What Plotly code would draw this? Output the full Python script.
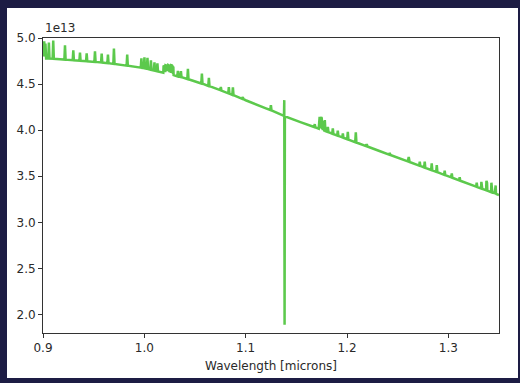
import plotly.graph_objects as go

# Spectrum samples: wavelength in microns, flux in units of 1e13
wavelength = [
    0.9000, 0.9003, 0.9006, 0.9009, 0.9012, 0.9015, 0.9018, 0.9021, 0.9024, 0.9027, 0.9031,
    0.9052, 0.9058, 0.9064,
    0.9095, 0.9101, 0.9107,
    0.9168,
    0.9211, 0.9217, 0.9223,
    0.9293, 0.9299, 0.9305,
    0.9359, 0.9365, 0.9371,
    0.9425, 0.9431, 0.9437,
    0.9507, 0.9513, 0.9519,
    0.9573, 0.9579, 0.9585,
    0.9635, 0.9641, 0.9647,
    0.9694, 0.9700, 0.9706,
    0.9760,
    0.9825, 0.9831, 0.9837,
    0.9965, 0.9971, 0.9977,
    0.9995, 1.0001, 1.0007,
    1.0025, 1.0031, 1.0037,
    1.0059, 1.0065, 1.0071,
    1.0094, 1.0100, 1.0106,
    1.0123, 1.0129, 1.0135,
    1.0187, 1.0190, 1.0193, 1.0196, 1.0199, 1.0202, 1.0206, 1.0209, 1.0213, 1.0216,
    1.0220, 1.0223, 1.0227, 1.0230, 1.0234, 1.0237, 1.0241, 1.0244, 1.0248, 1.0251,
    1.0255, 1.0258, 1.0262, 1.0265, 1.0269, 1.0272, 1.0276, 1.0279, 1.0283, 1.0286,
    1.0289,
    1.0325, 1.0331, 1.0337,
    1.0355, 1.0361, 1.0367,
    1.0424, 1.0430, 1.0436,
    1.0500,
    1.0562, 1.0568, 1.0574,
    1.0631, 1.0637, 1.0643,
    1.0749, 1.0755, 1.0761,
    1.0828, 1.0834, 1.0840,
    1.0868, 1.0874, 1.0880,
    1.0966, 1.0972, 1.0978,
    1.1000, 1.1200,
    1.1243, 1.1249, 1.1255,
    1.1378, 1.1381, 1.1384, 1.1387,
    1.1540,
    1.1676, 1.1682, 1.1688,
    1.1721, 1.1724, 1.1727, 1.1730, 1.1734, 1.1737, 1.1741, 1.1744, 1.1748, 1.1751,
    1.1755, 1.1758, 1.1762, 1.1766, 1.1770, 1.1775,
    1.1778, 1.1781, 1.1787,
    1.1805, 1.1811, 1.1817,
    1.1854, 1.1860, 1.1866,
    1.1903, 1.1909, 1.1915,
    1.1953, 1.1959, 1.1965,
    1.2002, 1.2008, 1.2014,
    1.2081, 1.2087, 1.2093,
    1.2189, 1.2195, 1.2201,
    1.2320,
    1.2416, 1.2422, 1.2428,
    1.2600, 1.2609, 1.2618,
    1.2712, 1.2718, 1.2724,
    1.2761, 1.2767, 1.2773,
    1.2830, 1.2836, 1.2842,
    1.2880, 1.2886, 1.2892,
    1.2958, 1.2964, 1.2970,
    1.3028, 1.3034, 1.3040,
    1.3106, 1.3112, 1.3118,
    1.3274, 1.3280, 1.3286,
    1.3323, 1.3326, 1.3329, 1.3332, 1.3335,
    1.3373, 1.3376, 1.3379, 1.3382, 1.3385,
    1.3422, 1.3425, 1.3428, 1.3431, 1.3434,
    1.3458, 1.3461, 1.3464, 1.3467, 1.3470, 1.3473,
    1.3500,
]

flux = [
    4.950, 4.800, 4.960, 4.820, 4.964, 4.800, 4.945, 4.830, 4.940, 4.790, 4.778,
    4.777, 4.950, 4.776,
    4.775, 4.972, 4.774,
    4.769,
    4.766, 4.921, 4.765,
    4.759, 4.867, 4.758,
    4.754, 4.842, 4.753,
    4.748, 4.834, 4.747,
    4.741, 4.856, 4.740,
    4.735, 4.831, 4.734,
    4.727, 4.820, 4.726,
    4.719, 4.885, 4.718,
    4.710,
    4.700, 4.820, 4.699,
    4.678, 4.780, 4.676,
    4.673, 4.791, 4.670,
    4.666, 4.786, 4.664,
    4.657, 4.759, 4.654,
    4.648, 4.737, 4.645,
    4.640, 4.726, 4.637,
    4.623, 4.700, 4.640, 4.695, 4.650, 4.700, 4.630, 4.705, 4.660, 4.703,
    4.640, 4.706, 4.660, 4.700, 4.640, 4.706, 4.655, 4.702, 4.630, 4.706,
    4.650, 4.700, 4.620, 4.705, 4.640, 4.703, 4.630, 4.700, 4.610, 4.690,
    4.597,
    4.584, 4.643, 4.582,
    4.577, 4.640, 4.575,
    4.555, 4.667, 4.553,
    4.531,
    4.507, 4.615, 4.505,
    4.480, 4.569, 4.478,
    4.435, 4.470, 4.430,
    4.400, 4.466, 4.397,
    4.383, 4.466, 4.380,
    4.340, 4.360, 4.336,
    4.325, 4.237,
    4.219, 4.272, 4.214,
    4.155, 4.326, 1.889, 4.150,
    4.088,
    4.034, 4.066, 4.030,
    4.016, 4.140, 4.030, 4.145, 4.040, 4.120, 4.020, 4.142, 4.030, 4.130,
    4.010, 4.100, 4.000, 4.060, 3.998, 3.996,
    3.995, 4.109, 3.990,
    3.982, 4.037, 3.978,
    3.962, 4.019, 3.958,
    3.942, 3.994, 3.938,
    3.922, 3.965, 3.918,
    3.902, 3.983, 3.898,
    3.870, 3.976, 3.866,
    3.827, 3.850, 3.823,
    3.774,
    3.735, 3.755, 3.731,
    3.661, 3.709, 3.655,
    3.616, 3.658, 3.612,
    3.596, 3.658, 3.592,
    3.568, 3.641, 3.564,
    3.548, 3.622, 3.544,
    3.516, 3.560, 3.512,
    3.488, 3.530, 3.484,
    3.456, 3.490, 3.452,
    3.388, 3.430, 3.384,
    3.368, 3.440, 3.380, 3.420, 3.364,
    3.348, 3.450, 3.360, 3.430, 3.344,
    3.328, 3.430, 3.340, 3.410, 3.324,
    3.316, 3.380, 3.320, 3.400, 3.315, 3.309,
    3.297,
]

x_ticks = [0.9, 1.0, 1.1, 1.2, 1.3]
y_ticks = [2.0, 2.5, 3.0, 3.5, 4.0, 4.5, 5.0]
x_range = [0.9, 1.35]
y_range = [1.8, 5.0]
offset_label = "1e13"
x_title = "Wavelength [microns]"

W, H = 520, 383
L, R, T, B = 43, 21, 38, 50
pw, ph = W - L - R, H - T - B

# white figure panel inside the dark frame, in paper coordinates
panel = dict(x0=(7 - L) / pw, x1=(518 - L) / pw,
             y0=((H - B) - 378) / ph, y1=((H - B) - 8) / ph)

fig = go.Figure()
fig.add_trace(go.Scatter(
    x=wavelength, y=flux, mode="lines",
    line=dict(color="#5cc94c", width=2.5),
    showlegend=False,
))

fig.add_shape(type="rect", xref="paper", yref="paper",
              x0=panel["x0"], x1=panel["x1"], y0=panel["y0"], y1=panel["y1"],
              fillcolor="white", line=dict(width=0), layer="below")

axis_common = dict(
    showgrid=False, zeroline=False, showline=True, mirror=True,
    linecolor="#333333", linewidth=1,
    ticks="outside", ticklen=4, tickwidth=1, tickcolor="#333333",
    tickfont=dict(family="DejaVu Sans", size=12, color="#2a2a2a"),
    tickformat=".1f",
)

fig.update_xaxes(range=x_range, tickvals=x_ticks, **axis_common,
                 title=dict(text=x_title, standoff=7,
                            font=dict(family="DejaVu Sans", size=12, color="#2a2a2a")))
fig.update_yaxes(range=y_range, tickvals=y_ticks, **axis_common)

fig.add_annotation(text=offset_label, xref="paper", yref="paper",
                   x=0, y=1, xanchor="left", yanchor="bottom", yshift=1,
                   showarrow=False,
                   font=dict(family="DejaVu Sans", size=12, color="#2a2a2a"))

fig.update_layout(
    width=W, height=H,
    margin=dict(l=L, r=R, t=T, b=B, pad=0),
    paper_bgcolor="#1d1c44",
    plot_bgcolor="white",
    font=dict(family="DejaVu Sans"),
)

fig.write_html("out.html")
